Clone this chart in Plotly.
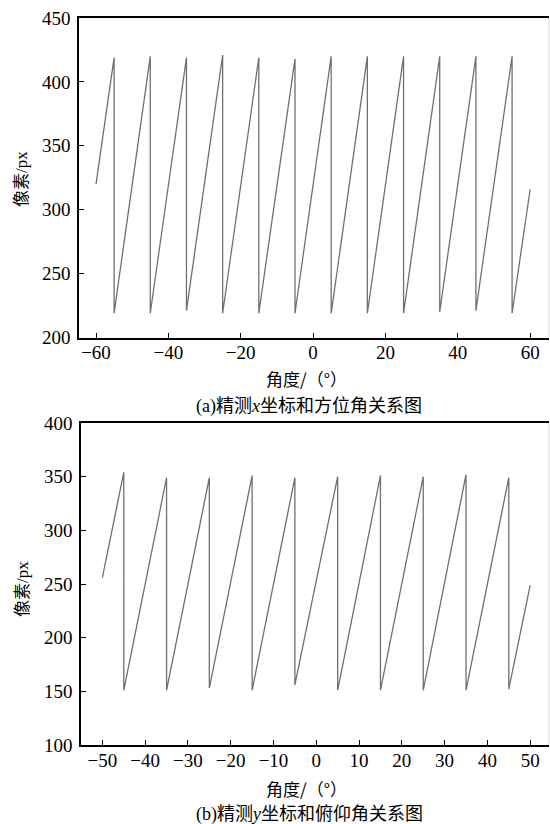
import plotly.graph_objects as go

# (a) azimuth angle vs x pixel
angle_a = [-60, -55, -55, -45, -45, -35, -35, -25, -25, -15, -15, -5, -5,
           5, 5, 15, 15, 25, 25, 35, 35, 45, 45, 55, 55, 60]
pixel_a = [320, 419, 219, 420, 219, 419, 221, 421, 219, 419, 219, 418, 219,
           420, 219, 420, 219, 420, 219, 420, 220, 420, 221, 420, 219, 316]

# (b) pitch angle vs y pixel
angle_b = [-50, -45, -45, -35, -35, -25, -25, -15, -15, -5, -5,
           5, 5, 15, 15, 25, 25, 35, 35, 45, 45, 50]
pixel_b = [256, 354, 151, 349, 151, 349, 153, 351, 151, 349, 156,
           350, 151, 351, 151, 350, 151, 352, 151, 349, 152, 249]

ticks_a_x = [-60, -40, -20, 0, 20, 40, 60]
ticks_a_y = [200, 250, 300, 350, 400, 450]
ticks_b_x = [-50, -40, -30, -20, -10, 0, 10, 20, 30, 40, 50]
ticks_b_y = [100, 150, 200, 250, 300, 350, 400]

W, H = 550, 824
LINE = "#707070"
SERIF = "Liberation Serif"
CJK = "Noto Sans CJK SC"

fig = go.Figure()
fig.add_trace(go.Scatter(x=angle_a, y=pixel_a, mode="lines",
                         line=dict(color=LINE, width=1.3), xaxis="x", yaxis="y",
                         showlegend=False, hoverinfo="skip"))
fig.add_trace(go.Scatter(x=angle_b, y=pixel_b, mode="lines",
                         line=dict(color=LINE, width=1.3), xaxis="x2", yaxis="y2",
                         showlegend=False, hoverinfo="skip"))

def py(p):
    return 1 - p / H

def axis(**kw):
    d = dict(showgrid=False, zeroline=False, showline=True, linecolor="black",
             linewidth=1.5, ticks="inside", ticklen=5, tickcolor="black",
             tickwidth=1.2, tickfont=dict(family=SERIF, size=19, color="black"),
             automargin=False, ticklabelstandoff=3)
    d.update(kw)
    return d

fig.update_layout(
    width=W, height=H, margin=dict(l=0, r=0, t=0, b=0), autosize=False,
    paper_bgcolor="white", plot_bgcolor="white",
    font=dict(family=SERIF),
    xaxis=axis(domain=[79 / W, 549 / W], range=[-64.7, 65.2], tickvals=ticks_a_x,
               anchor="y", mirror=True, ticklabelstandoff=-3),
    yaxis=axis(domain=[py(337.5), py(18)], range=[200, 450], tickvals=ticks_a_y,
               anchor="x"),
    xaxis2=axis(domain=[81 / W, 549 / W], range=[-55.0, 54.4], tickvals=ticks_b_x,
                anchor="y2", mirror=True, ticklabelstandoff=-3),
    yaxis2=axis(domain=[py(745), py(423)], range=[100, 400], tickvals=ticks_b_y,
                anchor="x2"),
)

# faint right border lines
for top, bot in [(18, 337.5), (423, 745)]:
    fig.add_shape(type="line", xref="paper", yref="paper", x0=549 / W, x1=549 / W,
                  y0=py(bot), y1=py(top), line=dict(color="#d8d8d8", width=1))

def ann(text, x, y, size=16, angle=0):
    fig.add_annotation(text=text, xref="paper", yref="paper", x=x / W, y=py(y),
                       showarrow=False, textangle=angle, xanchor="center",
                       yanchor="middle", font=dict(family=CJK, size=size, color="black"))

def serif(t, italic=False):
    style = "font-family:Liberation Serif" + (";font-style:italic" if italic else "")
    return f"<span style='{style}'>{t}</span>"

ytitle = "像素" + serif("/px")
ann(ytitle, 20, 179, size=17, angle=-90)
ann("角度/（°）", 306, 378, size=17)
ann(serif("(a)") + "精测" + serif("x", True) + "坐标和方位角关系图", 309, 404, size=18)

ann(ytitle, 20, 589, size=17, angle=-90)
ann("角度/（°）", 306, 788, size=17)
ann(serif("(b)") + "精测" + serif("y", True) + "坐标和俯仰角关系图", 309, 812, size=18)

fig.write_html("out.html", config={"displayModeBar": False},
               post_script="document.body.style.margin='0';document.body.style.overflow='hidden';")
